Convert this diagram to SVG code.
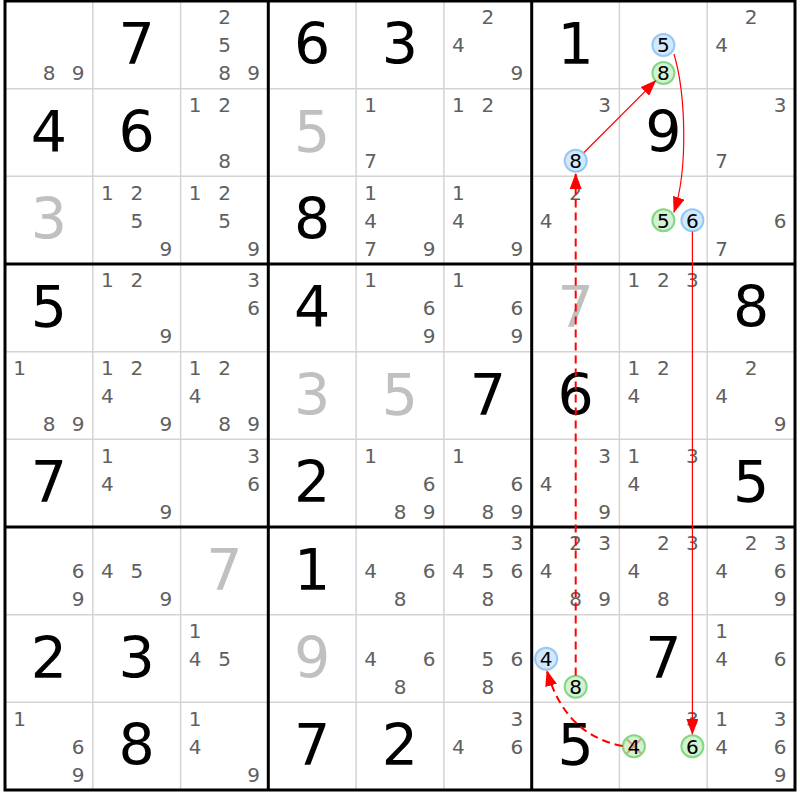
<svg xmlns="http://www.w3.org/2000/svg" width="800" height="800" viewBox="0 0 800 800">
<style>
text{font-family:"DejaVu Sans",Verdana,sans-serif;text-anchor:middle}
.c{font-size:20px;fill:#606060}
.k{font-size:20px;fill:#000}
.b{font-size:57px;fill:#000}
.g{font-size:57px;fill:#c0c0c0}
.bl{fill:#d2e8fc;stroke:#96c8f5;stroke-width:2}
.gr{fill:#d2f2d2;stroke:#82d882;stroke-width:2}
.thin{stroke:#d4d4d4;stroke-width:1.5}
.thick{stroke:#000;stroke-width:3;fill:none}
.sol{fill:none;stroke:#ff0000;stroke-width:1.2}
.dash{fill:none;stroke:#ff0000;stroke-width:2;stroke-dasharray:8 5}
.x{stroke:#ff0000;stroke-opacity:0.35;stroke-width:2}
</style>
<defs>
<marker id="ah" viewBox="0 0 16 12" refX="15" refY="6" markerWidth="16" markerHeight="12" markerUnits="userSpaceOnUse" orient="auto"><path d="M0,0 L16,6 L0,12 z" fill="#ff0000"/></marker>
</defs>
<rect x="0" y="0" width="800" height="800" fill="#fff"/>
<g id="grid">
<path class="thin" d="M92.8,1V790M180.6,1V790M356.1,1V790M443.9,1V790M619.4,1V790M707.2,1V790M5,88.7H795M5,176.3H795M5,351.7H795M5,439.3H795M5,614.7H795M5,702.3H795"/>
<path class="thick" d="M268.3,1V790M531.7,1V790M5,264H795M5,527H795"/>
<rect class="thick" x="5" y="1" width="790" height="789"/>
</g>
<!-- row 0 -->
<g id="r0c0" transform="translate(5,1)"><text class="c" x="44" y="79.3">8</text><text class="c" x="73" y="79.3">9</text></g>
<g id="r0c1" transform="translate(92.8,1)"><text class="b" x="43.9" y="63">7</text></g>
<g id="r0c2" transform="translate(180.6,1)"><text class="c" x="44" y="23.3">2</text><text class="c" x="44" y="51.3">5</text><text class="c" x="44" y="79.3">8</text><text class="c" x="73" y="79.3">9</text></g>
<g id="r0c3" transform="translate(268.3,1)"><text class="b" x="43.9" y="63">6</text></g>
<g id="r0c4" transform="translate(356.1,1)"><text class="b" x="43.9" y="63">3</text></g>
<g id="r0c5" transform="translate(443.9,1)"><text class="c" x="44" y="23.3">2</text><text class="c" x="14.5" y="51.3">4</text><text class="c" x="73" y="79.3">9</text></g>
<g id="r0c6" transform="translate(531.7,1)"><text class="b" x="43.9" y="63">1</text></g>
<g id="r0c7" transform="translate(619.4,1)"><circle class="bl" cx="44" cy="44" r="11"/><text class="k" x="44" y="51.3">5</text><circle class="gr" cx="44" cy="72" r="11"/><text class="k" x="44" y="79.3">8</text></g>
<g id="r0c8" transform="translate(707.2,1)"><text class="c" x="44" y="23.3">2</text><text class="c" x="14.5" y="51.3">4</text></g>
<!-- row 1 -->
<g id="r1c0" transform="translate(5,88.7)"><text class="b" x="43.9" y="63">4</text></g>
<g id="r1c1" transform="translate(92.8,88.7)"><text class="b" x="43.9" y="63">6</text></g>
<g id="r1c2" transform="translate(180.6,88.7)"><text class="c" x="14.5" y="23.3">1</text><text class="c" x="44" y="23.3">2</text><text class="c" x="44" y="79.3">8</text></g>
<g id="r1c3" transform="translate(268.3,88.7)"><text class="g" x="43.9" y="63">5</text></g>
<g id="r1c4" transform="translate(356.1,88.7)"><text class="c" x="14.5" y="23.3">1</text><text class="c" x="14.5" y="79.3">7</text></g>
<g id="r1c5" transform="translate(443.9,88.7)"><text class="c" x="14.5" y="23.3">1</text><text class="c" x="44" y="23.3">2</text></g>
<g id="r1c6" transform="translate(531.7,88.7)"><text class="c" x="73" y="23.3">3</text><circle class="bl" cx="44" cy="72" r="11"/><text class="k" x="44" y="79.3">8</text></g>
<g id="r1c7" transform="translate(619.4,88.7)"><text class="b" x="43.9" y="63">9</text></g>
<g id="r1c8" transform="translate(707.2,88.7)"><text class="c" x="73" y="23.3">3</text><text class="c" x="14.5" y="79.3">7</text></g>
<!-- row 2 -->
<g id="r2c0" transform="translate(5,176.3)"><text class="g" x="43.9" y="63">3</text></g>
<g id="r2c1" transform="translate(92.8,176.3)"><text class="c" x="14.5" y="23.3">1</text><text class="c" x="44" y="23.3">2</text><text class="c" x="44" y="51.3">5</text><text class="c" x="73" y="79.3">9</text></g>
<g id="r2c2" transform="translate(180.6,176.3)"><text class="c" x="14.5" y="23.3">1</text><text class="c" x="44" y="23.3">2</text><text class="c" x="44" y="51.3">5</text><text class="c" x="73" y="79.3">9</text></g>
<g id="r2c3" transform="translate(268.3,176.3)"><text class="b" x="43.9" y="63">8</text></g>
<g id="r2c4" transform="translate(356.1,176.3)"><text class="c" x="14.5" y="23.3">1</text><text class="c" x="14.5" y="51.3">4</text><text class="c" x="14.5" y="79.3">7</text><text class="c" x="73" y="79.3">9</text></g>
<g id="r2c5" transform="translate(443.9,176.3)"><text class="c" x="14.5" y="23.3">1</text><text class="c" x="14.5" y="51.3">4</text><text class="c" x="73" y="79.3">9</text></g>
<g id="r2c6" transform="translate(531.7,176.3)"><text class="c" x="44" y="23.3">2</text><text class="c" x="14.5" y="51.3">4</text></g>
<g id="r2c7" transform="translate(619.4,176.3)"><circle class="gr" cx="44" cy="44" r="11"/><text class="k" x="44" y="51.3">5</text><circle class="bl" cx="73" cy="44" r="11"/><text class="k" x="73" y="51.3">6</text></g>
<g id="r2c8" transform="translate(707.2,176.3)"><text class="c" x="73" y="51.3">6</text><text class="c" x="14.5" y="79.3">7</text></g>
<!-- row 3 -->
<g id="r3c0" transform="translate(5,264)"><text class="b" x="43.9" y="63">5</text></g>
<g id="r3c1" transform="translate(92.8,264)"><text class="c" x="14.5" y="23.3">1</text><text class="c" x="44" y="23.3">2</text><text class="c" x="73" y="79.3">9</text></g>
<g id="r3c2" transform="translate(180.6,264)"><text class="c" x="73" y="23.3">3</text><text class="c" x="73" y="51.3">6</text></g>
<g id="r3c3" transform="translate(268.3,264)"><text class="b" x="43.9" y="63">4</text></g>
<g id="r3c4" transform="translate(356.1,264)"><text class="c" x="14.5" y="23.3">1</text><text class="c" x="73" y="51.3">6</text><text class="c" x="73" y="79.3">9</text></g>
<g id="r3c5" transform="translate(443.9,264)"><text class="c" x="14.5" y="23.3">1</text><text class="c" x="73" y="51.3">6</text><text class="c" x="73" y="79.3">9</text></g>
<g id="r3c6" transform="translate(531.7,264)"><text class="g" x="43.9" y="63">7</text></g>
<g id="r3c7" transform="translate(619.4,264)"><text class="c" x="14.5" y="23.3">1</text><text class="c" x="44" y="23.3">2</text><text class="c" x="73" y="23.3">3</text></g>
<g id="r3c8" transform="translate(707.2,264)"><text class="b" x="43.9" y="63">8</text></g>
<!-- row 4 -->
<g id="r4c0" transform="translate(5,351.7)"><text class="c" x="14.5" y="23.3">1</text><text class="c" x="44" y="79.3">8</text><text class="c" x="73" y="79.3">9</text></g>
<g id="r4c1" transform="translate(92.8,351.7)"><text class="c" x="14.5" y="23.3">1</text><text class="c" x="44" y="23.3">2</text><text class="c" x="14.5" y="51.3">4</text><text class="c" x="73" y="79.3">9</text></g>
<g id="r4c2" transform="translate(180.6,351.7)"><text class="c" x="14.5" y="23.3">1</text><text class="c" x="44" y="23.3">2</text><text class="c" x="14.5" y="51.3">4</text><text class="c" x="44" y="79.3">8</text><text class="c" x="73" y="79.3">9</text></g>
<g id="r4c3" transform="translate(268.3,351.7)"><text class="g" x="43.9" y="63">3</text></g>
<g id="r4c4" transform="translate(356.1,351.7)"><text class="g" x="43.9" y="63">5</text></g>
<g id="r4c5" transform="translate(443.9,351.7)"><text class="b" x="43.9" y="63">7</text></g>
<g id="r4c6" transform="translate(531.7,351.7)"><text class="b" x="43.9" y="63">6</text></g>
<g id="r4c7" transform="translate(619.4,351.7)"><text class="c" x="14.5" y="23.3">1</text><text class="c" x="44" y="23.3">2</text><text class="c" x="14.5" y="51.3">4</text></g>
<g id="r4c8" transform="translate(707.2,351.7)"><text class="c" x="44" y="23.3">2</text><text class="c" x="14.5" y="51.3">4</text><text class="c" x="73" y="79.3">9</text></g>
<!-- row 5 -->
<g id="r5c0" transform="translate(5,439.3)"><text class="b" x="43.9" y="63">7</text></g>
<g id="r5c1" transform="translate(92.8,439.3)"><text class="c" x="14.5" y="23.3">1</text><text class="c" x="14.5" y="51.3">4</text><text class="c" x="73" y="79.3">9</text></g>
<g id="r5c2" transform="translate(180.6,439.3)"><text class="c" x="73" y="23.3">3</text><text class="c" x="73" y="51.3">6</text></g>
<g id="r5c3" transform="translate(268.3,439.3)"><text class="b" x="43.9" y="63">2</text></g>
<g id="r5c4" transform="translate(356.1,439.3)"><text class="c" x="14.5" y="23.3">1</text><text class="c" x="73" y="51.3">6</text><text class="c" x="44" y="79.3">8</text><text class="c" x="73" y="79.3">9</text></g>
<g id="r5c5" transform="translate(443.9,439.3)"><text class="c" x="14.5" y="23.3">1</text><text class="c" x="73" y="51.3">6</text><text class="c" x="44" y="79.3">8</text><text class="c" x="73" y="79.3">9</text></g>
<g id="r5c6" transform="translate(531.7,439.3)"><text class="c" x="73" y="23.3">3</text><text class="c" x="14.5" y="51.3">4</text><text class="c" x="73" y="79.3">9</text></g>
<g id="r5c7" transform="translate(619.4,439.3)"><text class="c" x="14.5" y="23.3">1</text><text class="c" x="73" y="23.3">3</text><text class="c" x="14.5" y="51.3">4</text></g>
<g id="r5c8" transform="translate(707.2,439.3)"><text class="b" x="43.9" y="63">5</text></g>
<!-- row 6 -->
<g id="r6c0" transform="translate(5,527)"><text class="c" x="73" y="51.3">6</text><text class="c" x="73" y="79.3">9</text></g>
<g id="r6c1" transform="translate(92.8,527)"><text class="c" x="14.5" y="51.3">4</text><text class="c" x="44" y="51.3">5</text><text class="c" x="73" y="79.3">9</text></g>
<g id="r6c2" transform="translate(180.6,527)"><text class="g" x="43.9" y="63">7</text></g>
<g id="r6c3" transform="translate(268.3,527)"><text class="b" x="43.9" y="63">1</text></g>
<g id="r6c4" transform="translate(356.1,527)"><text class="c" x="14.5" y="51.3">4</text><text class="c" x="73" y="51.3">6</text><text class="c" x="44" y="79.3">8</text></g>
<g id="r6c5" transform="translate(443.9,527)"><text class="c" x="73" y="23.3">3</text><text class="c" x="14.5" y="51.3">4</text><text class="c" x="44" y="51.3">5</text><text class="c" x="73" y="51.3">6</text><text class="c" x="44" y="79.3">8</text></g>
<g id="r6c6" transform="translate(531.7,527)"><text class="c" x="44" y="23.3">2</text><text class="c" x="73" y="23.3">3</text><text class="c" x="14.5" y="51.3">4</text><text class="c" x="44" y="79.3">8</text><text class="c" x="73" y="79.3">9</text></g>
<g id="r6c7" transform="translate(619.4,527)"><text class="c" x="44" y="23.3">2</text><text class="c" x="73" y="23.3">3</text><text class="c" x="14.5" y="51.3">4</text><text class="c" x="44" y="79.3">8</text></g>
<g id="r6c8" transform="translate(707.2,527)"><text class="c" x="44" y="23.3">2</text><text class="c" x="73" y="23.3">3</text><text class="c" x="14.5" y="51.3">4</text><text class="c" x="73" y="51.3">6</text><text class="c" x="73" y="79.3">9</text></g>
<!-- row 7 -->
<g id="r7c0" transform="translate(5,614.7)"><text class="b" x="43.9" y="63">2</text></g>
<g id="r7c1" transform="translate(92.8,614.7)"><text class="b" x="43.9" y="63">3</text></g>
<g id="r7c2" transform="translate(180.6,614.7)"><text class="c" x="14.5" y="23.3">1</text><text class="c" x="14.5" y="51.3">4</text><text class="c" x="44" y="51.3">5</text></g>
<g id="r7c3" transform="translate(268.3,614.7)"><text class="g" x="43.9" y="63">9</text></g>
<g id="r7c4" transform="translate(356.1,614.7)"><text class="c" x="14.5" y="51.3">4</text><text class="c" x="73" y="51.3">6</text><text class="c" x="44" y="79.3">8</text></g>
<g id="r7c5" transform="translate(443.9,614.7)"><text class="c" x="44" y="51.3">5</text><text class="c" x="73" y="51.3">6</text><text class="c" x="44" y="79.3">8</text></g>
<g id="r7c6" transform="translate(531.7,614.7)"><circle class="bl" cx="14.5" cy="44" r="11"/><text class="k" x="14.5" y="51.3">4</text><circle class="gr" cx="44" cy="72" r="11"/><text class="k" x="44" y="79.3">8</text></g>
<g id="r7c7" transform="translate(619.4,614.7)"><text class="b" x="43.9" y="63">7</text></g>
<g id="r7c8" transform="translate(707.2,614.7)"><text class="c" x="14.5" y="23.3">1</text><text class="c" x="14.5" y="51.3">4</text><text class="c" x="73" y="51.3">6</text></g>
<!-- row 8 -->
<g id="r8c0" transform="translate(5,702.3)"><text class="c" x="14.5" y="23.3">1</text><text class="c" x="73" y="51.3">6</text><text class="c" x="73" y="79.3">9</text></g>
<g id="r8c1" transform="translate(92.8,702.3)"><text class="b" x="43.9" y="63">8</text></g>
<g id="r8c2" transform="translate(180.6,702.3)"><text class="c" x="14.5" y="23.3">1</text><text class="c" x="14.5" y="51.3">4</text><text class="c" x="73" y="79.3">9</text></g>
<g id="r8c3" transform="translate(268.3,702.3)"><text class="b" x="43.9" y="63">7</text></g>
<g id="r8c4" transform="translate(356.1,702.3)"><text class="b" x="43.9" y="63">2</text></g>
<g id="r8c5" transform="translate(443.9,702.3)"><text class="c" x="73" y="23.3">3</text><text class="c" x="14.5" y="51.3">4</text><text class="c" x="73" y="51.3">6</text></g>
<g id="r8c6" transform="translate(531.7,702.3)"><text class="b" x="43.9" y="63">5</text></g>
<g id="r8c7" transform="translate(619.4,702.3)"><text class="c" x="73" y="23.3">3</text><circle class="gr" cx="14.5" cy="44" r="11"/><path class="x" d="M7.5,37L21.5,51M7.5,51L21.5,37"/><text class="k" x="14.5" y="51.3">4</text><circle class="gr" cx="73" cy="44" r="11"/><text class="k" x="73" y="51.3">6</text></g>
<g id="r8c8" transform="translate(707.2,702.3)"><text class="c" x="14.5" y="23.3">1</text><text class="c" x="73" y="23.3">3</text><text class="c" x="14.5" y="51.3">4</text><text class="c" x="73" y="51.3">6</text><text class="c" x="73" y="79.3">9</text></g>
<g id="connectors">
<path class="sol" d="M584,152.5L655.6,80.8" marker-end="url(#ah)"/>
<path class="sol" d="M674,54C686,95 688,170 674,212" marker-end="url(#ah)"/>
<path class="sol" d="M692.4,231.5L692.4,734" marker-end="url(#ah)"/>
<path class="dash" d="M575.7,675.5L575.7,174" marker-end="url(#ah)"/>
<path class="dash" d="M622.5,746Q565,735 547,671" marker-end="url(#ah)"/>
</g>
</svg>
